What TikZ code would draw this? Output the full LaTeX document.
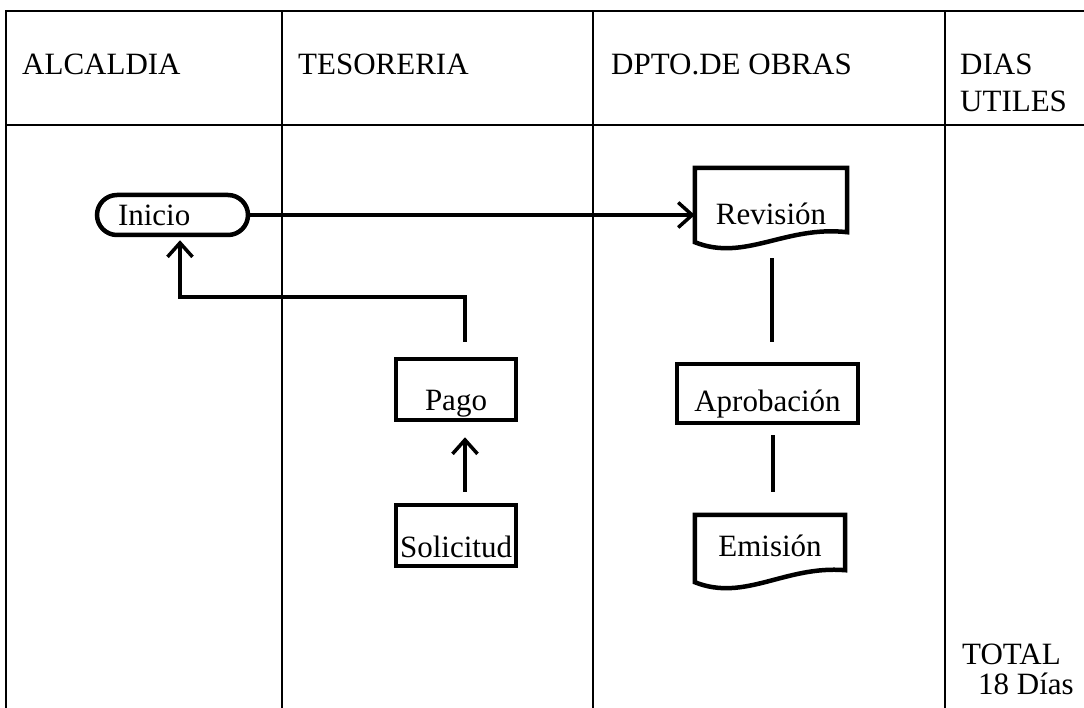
\documentclass[tikz,border=0pt]{standalone}
\usepackage{fontspec}
\setmainfont{Liberation Serif}
\usetikzlibrary{arrows.meta}
\begin{document}
\begin{tikzpicture}[x=1pt,y=-1pt,
  gridline/.style={line width=2.2pt},
  hdr/.style={anchor=base west, inner sep=0pt, font=\fontsize{31}{37}\selectfont},
  shapeline/.style={line width=4.5pt, line join=miter},
  boxnode/.style={draw, line width=4.5pt, inner sep=0pt, font=\fontsize{31}{37}\selectfont},
  docnode/.style={inner sep=0pt, font=\fontsize{31}{37}\selectfont},
  conn/.style={line width=3.5pt},
  arr/.style={conn, -{Straight Barb[length=14pt,width=25pt,line width=3.5pt]}}
]
\useasboundingbox (0,0) rectangle (1084,708);
% table
\draw[gridline] (1084,11) -- (6,11) -- (6,708);
\draw[gridline] (6,125) -- (1084,125);
\draw[gridline] (282,11) -- (282,708);
\draw[gridline] (593,11) -- (593,708);
\draw[gridline] (945,11) -- (945,708);
% headers
\node[hdr] (h1) at (22,75) {ALCALDIA};
\node[hdr] (h2) at (298,75) {TESORERIA};
\node[hdr] (h3) at (611,75) {DPTO.DE OBRAS};
\node[hdr] (h4) at (960,75) {DIAS};
\node[hdr] (h5) at (960,112) {UTILES};
\node[hdr] (t1) at (962,664) {TOTAL};
\node[hdr] (t2) at (978,694) {18 Días};
% nodes
\node[boxnode, rounded corners=20pt, minimum width=151pt, minimum height=40pt,
      text width=109pt, inner xsep=21pt, align=left] (ini) at (172.5,215) {Inicio};
\node[docnode, minimum width=152pt, minimum height=82pt, text height=32pt, text depth=0pt] (rev) at (771,209) {Revisión};
\node[boxnode, minimum width=181pt, minimum height=59pt, text height=35pt, text depth=0pt] (apr) at (767.5,393.5) {Aprobación};
\node[docnode, minimum width=150pt, minimum height=72pt, text height=22pt, text depth=12pt] (emi) at (770,551) {Emisión};
\node[boxnode, minimum width=120pt, minimum height=61pt, text height=41pt, text depth=0pt] (pago) at (456,389.5) {Pago};
\node[boxnode, minimum width=120pt, minimum height=61pt, text height=43pt, text depth=0pt] (sol) at (456,535.5) {Solicitud};
% document outlines
\draw[shapeline] (rev.north west) -- (rev.north east) -- ([yshift=18pt]rev.south east)
  .. controls ([xshift=-62pt,yshift=25pt]rev.south east) and ([xshift=50pt,yshift=-12pt]rev.south west) .. ([yshift=8pt]rev.south west) -- cycle;
\draw[shapeline] (emi.north west) -- (emi.north east) -- ([yshift=17pt]emi.south east)
  .. controls ([xshift=-60pt,yshift=22pt]emi.south east) and ([xshift=50pt,yshift=-15pt]emi.south west) .. ([yshift=5pt]emi.south west) -- cycle;
% connectors
\coordinate (bend1) at (465,297);
\coordinate (bend2) at (180,297);
\draw[arr] (ini.east) -- (ini.east -| rev.west);
\draw[conn] ([xshift=1pt,yshift=-8pt]rev.south) -- ([xshift=1pt,yshift=20pt]rev.south |- apr.north);
\draw[conn] ([xshift=2pt,yshift=-10pt]rev.south |- apr.south) -- ([xshift=2pt,yshift=23pt]rev.south |- emi.north);
\draw[arr] ([xshift=9pt,yshift=11pt]sol.north) -- ([xshift=9pt,yshift=-15pt]pago.south);
\draw[arr] ([xshift=9pt,yshift=15pt]pago.north) -- (bend1) -- (bend2) -- ([xshift=7.5pt,yshift=-3pt]ini.south);
\end{tikzpicture}
\end{document}
